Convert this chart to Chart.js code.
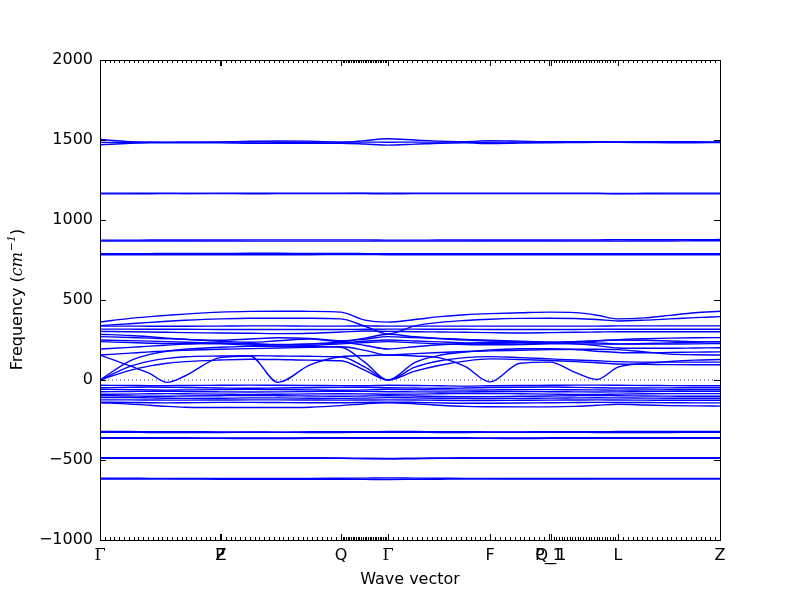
<!DOCTYPE html>
<html>
<head>
<meta charset="utf-8">
<script src="https://cdn.jsdelivr.net/npm/chart.js@4.4.0/dist/chart.umd.min.js"></script>
<style>
  html, body { margin: 0; padding: 0; background: #fff; }
</style>
</head>
<body>
<canvas id="chart" width="800" height="600"></canvas>
<script>
// Phonon band structure: frequency vs wave vector

// path distance of each sampled k-point (same for every band)
const kx = [0, 30, 50, 67, 85, 120, 150, 178, 210, 241, 265, 288, 315, 340, 365, 390, 420, 450, 475, 497, 518, 545, 570, 595, 620];

// high symmetry points
const specialX = [0, 120, 121, 241, 288, 390, 449, 451, 518, 620];
const specialLabels = ['Γ', 'P', 'Z', 'Q', 'Γ', 'F', 'P_1', 'Q_1', 'L', 'Z'];
const segPoints = [25, 1, 25, 28, 21, 12, 1, 25, 21];   // k-points per segment
const yTicks = [-1000, -500, 0, 500, 1000, 1500, 2000];

// bands above 700
const highBands = [
  [1503, 1490, 1486, 1485, 1486, 1488, 1492, 1494, 1493, 1486, 1496, 1508, 1500, 1493, 1490, 1496, 1493, 1489, 1490, 1490, 1488, 1489, 1490, 1489, 1488],
  [1470, 1480, 1482, 1482, 1482, 1483, 1480, 1479, 1480, 1480, 1475, 1468, 1474, 1480, 1482, 1478, 1481, 1483, 1484, 1485, 1485, 1484, 1483, 1483, 1484],
  [1485, 1486, 1486, 1487, 1487, 1487, 1487, 1486, 1486, 1487, 1487, 1486, 1487, 1487, 1486, 1486, 1487, 1487, 1487, 1486, 1487, 1487, 1487, 1487, 1486],
  [1168, 1168, 1167, 1167, 1166, 1167, 1168, 1167, 1167, 1167, 1167, 1168, 1167, 1167, 1167, 1168, 1167, 1167, 1167, 1167, 1166, 1167, 1168, 1168, 1168],
  [1163, 1163, 1164, 1165, 1166, 1165, 1164, 1165, 1165, 1165, 1166, 1163, 1165, 1165, 1165, 1165, 1165, 1165, 1165, 1165, 1164, 1163, 1163, 1163, 1163],
  [874, 874, 875, 875, 875, 876, 876, 876, 876, 876, 876, 874, 874, 875, 875, 875, 875, 875, 876, 876, 877, 877, 877, 877, 878],
  [868, 869, 869, 869, 869, 869, 868, 868, 868, 868, 868, 868, 868, 868, 868, 869, 869, 869, 869, 869, 868, 869, 869, 870, 870],
  [789, 789, 790, 791, 791, 791, 792, 792, 791, 791, 790, 789, 789, 789, 790, 790, 790, 790, 790, 789, 789, 789, 789, 789, 789],
  [783, 783, 783, 783, 783, 783, 783, 783, 783, 784, 784, 783, 783, 783, 783, 783, 783, 783, 783, 783, 783, 783, 783, 783, 783],
];

// optical bands between 150 and 430
const midBands = [
  [362, 385, 396, 404, 412, 424, 429, 430, 429, 424, 374, 362, 378, 396, 408, 415, 420, 424, 421, 405, 382, 388, 404, 420, 430],
  [340, 352, 360, 367, 373, 382, 386, 386, 386, 382, 336, 288, 338, 360, 372, 380, 385, 386, 384, 378, 369, 374, 382, 390, 396],
  [337, 337, 336, 336, 336, 337, 338, 338, 337, 337, 338, 337, 337, 337, 337, 337, 337, 337, 337, 337, 338, 338, 338, 338, 338],
  [318, 318, 317, 317, 317, 316, 316, 316, 316, 316, 317, 318, 318, 317, 317, 316, 316, 316, 316, 317, 317, 317, 317, 317, 317],
  [304, 302, 300, 298, 296, 294, 292, 290, 292, 300, 306, 304, 302, 300, 298, 296, 294, 296, 298, 300, 302, 302, 302, 302, 302],
  [286, 278, 270, 262, 255, 242, 236, 245, 256, 240, 262, 286, 270, 258, 250, 244, 238, 232, 236, 244, 252, 258, 262, 264, 265],
  [271, 266, 262, 258, 254, 248, 256, 264, 260, 245, 255, 271, 265, 260, 254, 248, 242, 238, 240, 246, 250, 248, 244, 240, 238],
  [250, 246, 243, 240, 236, 230, 224, 220, 224, 232, 242, 250, 244, 238, 232, 228, 226, 230, 238, 232, 226, 228, 232, 236, 240],
  [240, 234, 230, 228, 228, 226, 218, 212, 216, 226, 234, 240, 232, 226, 222, 220, 222, 226, 226, 224, 224, 224, 225, 226, 228],
  [194, 204, 212, 218, 224, 232, 228, 222, 226, 234, 216, 194, 208, 220, 228, 234, 236, 234, 226, 215, 200, 198, 198, 200, 202],
  [156, 168, 176, 182, 186, 192, 196, 200, 204, 208, 185, 156, 165, 172, 178, 182, 186, 190, 192, 192, 190, 175, 162, 158, 156],
];

// acoustic-like bands starting at 0 in Γ, and the one that dips below 0
const lowBands = [
  [0, 120, 160, 180, 192, 205, 210, 212, 210, 205, 110, 0, 110, 155, 175, 188, 195, 196, 190, 180, 172, 170, 172, 174, 176],
  [0, 85, 118, 135, 145, 150, 152, 150, 148, 145, 80, 0, 80, 120, 140, 146, 140, 132, 125, 120, 115, 112, 112, 112, 112],
  [0, 60, 88, 105, 115, 125, 130, 128, 124, 120, 60, 0, 55, 92, 118, 132, 128, 122, 115, 108, 100, 98, 96, 95, 95],
  [156, 88, 40, -15, 25, 140, 150, -15, 95, 145, 152, 156, 150, 138, 85, -12, 105, 112, 48, 3, 80, 104, 116, 124, 128],
];

// imaginary modes just under 0
const negBands = [
  [-33, -34, -35, -35, -34, -33, -32, -33, -34, -35, -36, -33, -34, -36, -38, -36, -34, -33, -32, -32, -33, -34, -35, -36, -36],
  [-48, -46, -44, -45, -47, -50, -52, -50, -48, -46, -45, -48, -50, -52, -50, -47, -45, -44, -46, -48, -50, -50, -49, -48, -48],
  [-58, -60, -62, -63, -62, -60, -58, -60, -62, -64, -62, -58, -60, -62, -63, -62, -60, -60, -61, -62, -63, -62, -61, -60, -60],
  [-73, -72, -70, -70, -72, -74, -75, -74, -72, -70, -71, -73, -74, -75, -74, -72, -72, -73, -74, -75, -74, -72, -71, -70, -70],
  [-89, -88, -86, -85, -86, -88, -90, -89, -87, -86, -87, -89, -88, -86, -84, -84, -86, -88, -90, -90, -88, -86, -85, -85, -85],
  [-98, -100, -102, -102, -100, -98, -97, -98, -100, -102, -100, -98, -100, -103, -105, -104, -102, -100, -98, -97, -98, -100, -101, -102, -102],
  [-110, -110, -112, -114, -115, -114, -112, -112, -114, -115, -113, -110, -112, -114, -115, -116, -115, -113, -112, -111, -112, -113, -114, -114, -114],
  [-124, -124, -125, -126, -126, -125, -124, -124, -125, -126, -125, -124, -125, -127, -128, -128, -127, -126, -125, -124, -125, -126, -127, -127, -127],
  [-138, -140, -142, -143, -142, -140, -140, -141, -142, -142, -140, -138, -140, -143, -145, -145, -144, -142, -141, -140, -140, -141, -142, -143, -143],
  [-142, -150, -158, -165, -170, -172, -172, -172, -170, -160, -148, -142, -148, -158, -165, -167, -168, -168, -165, -158, -152, -156, -160, -162, -163],
];

// deep imaginary modes
const deepBands = [
  [-322, -322, -323, -323, -323, -324, -324, -326, -323, -323, -323, -322, -322, -323, -323, -324, -324, -323, -323, -323, -322, -322, -322, -322, -322],
  [-327, -327, -328, -328, -328, -328, -327, -327, -328, -328, -327, -327, -327, -328, -328, -327, -327, -327, -327, -328, -328, -328, -328, -327, -327],
  [-360, -360, -361, -361, -361, -362, -362, -362, -361, -361, -361, -360, -360, -361, -361, -362, -362, -361, -361, -361, -360, -360, -361, -361, -361],
  [-364, -364, -364, -365, -365, -365, -366, -366, -365, -365, -364, -364, -364, -365, -365, -365, -366, -365, -365, -364, -364, -365, -365, -365, -365],
  [-486, -486, -486, -486, -486, -486, -486, -486, -486, -487, -489, -490, -488, -487, -486, -486, -486, -486, -486, -486, -486, -486, -486, -486, -486],
  [-489, -489, -489, -489, -489, -489, -489, -489, -489, -490, -493, -494, -492, -490, -489, -489, -489, -489, -489, -489, -489, -489, -489, -489, -489],
  [-614, -614, -615, -615, -616, -616, -616, -615, -615, -614, -613, -612, -613, -614, -615, -615, -616, -616, -616, -615, -615, -615, -615, -615, -615],
  [-619, -619, -619, -619, -619, -620, -620, -620, -620, -620, -621, -622, -621, -620, -619, -619, -619, -619, -619, -619, -619, -619, -619, -619, -619],
];

const zeroX = [0, 620];
const zeroY = [0, 0];

// k-point tick marks along the path
const kTicks = [];
segPoints.forEach((n, s) => {
  const a = specialX[s], b = specialX[s + 1];
  for (let j = 0; j < n; j++) kTicks.push(a + (b - a) * j / n);
});
kTicks.push(specialX[specialX.length - 1]);

const allBands = [...highBands, ...midBands, ...lowBands, ...negBands, ...deepBands];

const datasets = allBands.map(b => ({
  data: kx.map((x, i) => ({ x, y: b[i] })),
  borderColor: '#0000ff',
  borderWidth: 1.4,
  pointRadius: 0,
  cubicInterpolationMode: 'monotone',
  fill: false,
}));

datasets.push({
  data: zeroX.map((x, i) => ({ x, y: zeroY[i] })),
  borderColor: '#3333ff',
  borderWidth: 1.2,
  borderDash: [1, 3],
  pointRadius: 0,
  fill: false,
});

// box + inward ticks like matplotlib
const framePlugin = {
  id: 'frame',
  afterDraw(chart) {
    const { ctx, chartArea: a, scales: { x, y } } = chart;
    ctx.save();
    ctx.strokeStyle = '#000';
    ctx.lineWidth = 1;
    ctx.beginPath();
    kTicks.forEach(v => {
      const px = Math.round(x.getPixelForValue(v)) + 0.5;
      ctx.moveTo(px, a.bottom); ctx.lineTo(px, a.bottom - 3);
      ctx.moveTo(px, a.top); ctx.lineTo(px, a.top + 3);
    });
    specialX.forEach(v => {
      const px = Math.round(x.getPixelForValue(v)) + 0.5;
      ctx.moveTo(px, a.bottom); ctx.lineTo(px, a.bottom - 6);
      ctx.moveTo(px, a.top); ctx.lineTo(px, a.top + 6);
    });
    yTicks.forEach(v => {
      const py = Math.round(y.getPixelForValue(v)) + 0.5;
      ctx.moveTo(a.left, py); ctx.lineTo(a.left + 6, py);
      ctx.moveTo(a.right, py); ctx.lineTo(a.right - 6, py);
    });
    ctx.stroke();
    ctx.strokeRect(a.left + 0.5, a.top + 0.5, a.right - a.left, a.bottom - a.top);
    ctx.restore();
  }
};

// y label with italic "cm" and superscript, as in the mathtext original
const yLabelPlugin = {
  id: 'ylabel',
  afterDraw(chart) {
    const { ctx, chartArea: a } = chart;
    const parts = [
      { t: 'Frequency (', f: '16px "DejaVu Sans"', dy: 0 },
      { t: 'cm', f: 'italic 16px "DejaVu Serif"', dy: 0 },
      { t: '\u22121', f: 'italic 11px "DejaVu Serif"', dy: -6 },
      { t: ')', f: '16px "DejaVu Sans"', dy: 0 },
    ];
    ctx.save();
    let total = 0;
    parts.forEach(p => { ctx.font = p.f; p.w = ctx.measureText(p.t).width; total += p.w; });
    ctx.translate(18, (a.top + a.bottom) / 2);
    ctx.rotate(-Math.PI / 2);
    ctx.fillStyle = '#000';
    ctx.textBaseline = 'middle';
    let cx = -total / 2;
    parts.forEach(p => { ctx.font = p.f; ctx.fillText(p.t, cx, p.dy); cx += p.w + (p.t === 'cm' ? 1 : 0); });
    ctx.restore();
  }
};

new Chart(document.getElementById('chart'), {
  type: 'line',
  data: { datasets },
  options: {
    responsive: false,
    animation: false,
    devicePixelRatio: 1,
    layout: { padding: { left: 0, right: 80, top: 60, bottom: 0 } },
    plugins: { legend: { display: false }, tooltip: { enabled: false } },
    scales: {
      x: {
        type: 'linear',
        min: 0,
        max: 620,
        afterFit: s => { s.height = 60; },
        afterBuildTicks: s => { s.ticks = specialX.map(v => ({ value: v })); },
        grid: { display: false, drawTicks: false },
        border: { display: false },
        ticks: {
          autoSkip: false,
          maxRotation: 0,
          padding: 6,
          color: '#000',
          callback: (v, i) => specialLabels[i],
          font: c => ({ family: specialLabels[c.index] === 'Γ' ? 'DejaVu Serif' : 'DejaVu Sans', size: 16 }),
        },
        title: {
          display: true,
          text: 'Wave vector',
          color: '#000',
          font: { family: 'DejaVu Sans', size: 16 },
          padding: { top: 0, bottom: 11 },
        },
      },
      y: {
        min: -1000,
        max: 2000,
        afterFit: s => { s.width = 100; },
        afterBuildTicks: s => { s.ticks = yTicks.map(v => ({ value: v })); },
        grid: { display: false, drawTicks: false },
        border: { display: false },
        ticks: {
          padding: 7,
          color: '#000',
          font: { family: 'DejaVu Sans', size: 16 },
          callback: v => (v < 0 ? '\u2212' + Math.abs(v) : String(v)),
        },
      },
    },
  },
  plugins: [framePlugin, yLabelPlugin],
});
</script>
</body>
</html>
